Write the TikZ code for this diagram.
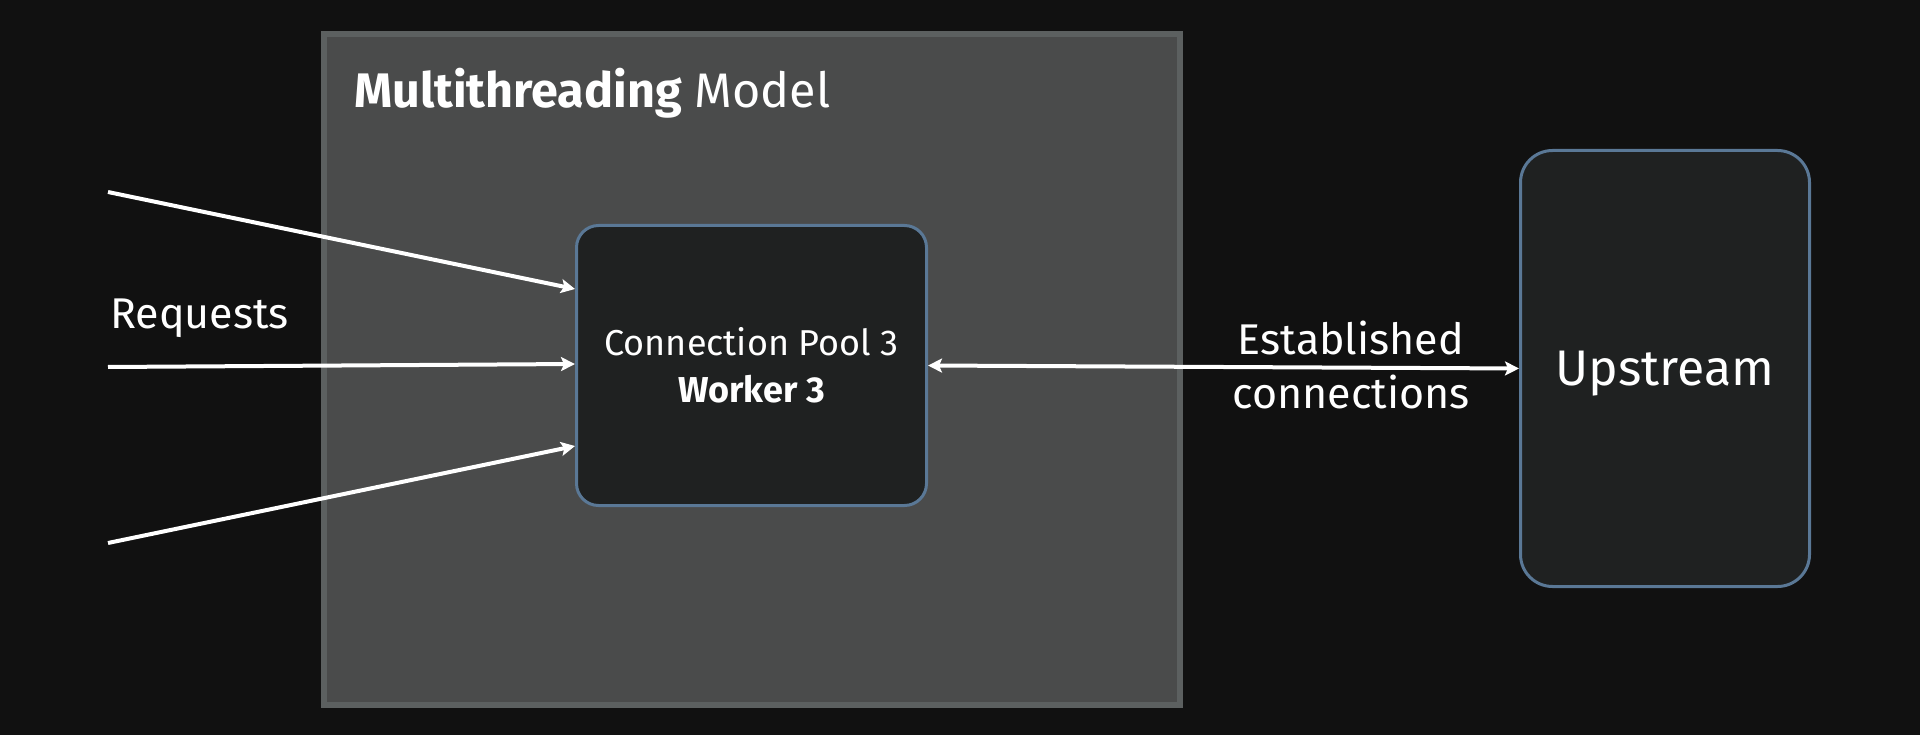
\documentclass[tikz,border=0pt]{standalone}
\usepackage{fontspec}
\setmainfont{Fira Sans}
\usetikzlibrary{arrows.meta}
\definecolor{bg}{HTML}{111111}
\definecolor{outerfill}{HTML}{4A4B4B}
\definecolor{outerline}{HTML}{5C6060}
\definecolor{boxfill}{HTML}{1F2121}
\definecolor{boxline}{HTML}{5A7896}
\tikzset{
  box/.style={draw=boxline, fill=boxfill, line width=3pt, rounded corners=#1, inner sep=0pt, text=white, align=center},
  lbl/.style={text=white, inner sep=0pt},
  conn/.style={draw=white, line width=4pt, -{Stealth[length=14pt,width=14pt,inset=3pt]}},
  dconn/.style={draw=white, line width=4pt, {Stealth[length=14pt,width=14pt,inset=3pt]}-{Stealth[length=14pt,width=14pt,inset=3pt]}}
}
\begin{document}
\begin{tikzpicture}[x=1pt,y=-1pt]
\fill[bg] (0,0) rectangle (1920,735);
\useasboundingbox (0,0) rectangle (1920,735);
% outer container
\draw[line width=6pt, draw=outerline, fill=outerfill] (324,34) rectangle (1180,705);
\node[lbl, anchor=base west, font=\fontsize{48.5}{58}\selectfont] (title) at (354,108) {\textbf{Multithreading} Model};
% worker box
\node[box=22pt, minimum width=350pt, minimum height=280pt, font=\fontsize{36}{47}\selectfont] (w) at (751.5,365.5) {Connection Pool 3\\\textbf{Worker 3}};
% upstream box
\node[box=32pt, minimum width=289pt, minimum height=436pt, text height=34pt, text depth=1pt, font=\fontsize{50}{60}\selectfont] (u) at (1665,368.5) {Upstream};
% requests
\node[lbl, anchor=base west, font=\fontsize{43}{52}\selectfont] (req) at (110,329) {Requests};
\coordinate (r1) at (108,192);
\coordinate (r2) at (108,367);
\coordinate (r3) at (108,543);
\draw[conn] (r1) -- ([yshift=76.5pt]w.west);
\draw[conn] (r2) -- ([yshift=1.5pt]w.west);
\draw[conn] (r3) -- ([yshift=-80.5pt]w.west);
% established connections
\draw[dconn] (w.east) -- (u.west);
\node[lbl, align=center, anchor=base, font=\fontsize{43}{54}\selectfont] (est) at (1351,408) {Established\\connections};
\end{tikzpicture}
\end{document}
